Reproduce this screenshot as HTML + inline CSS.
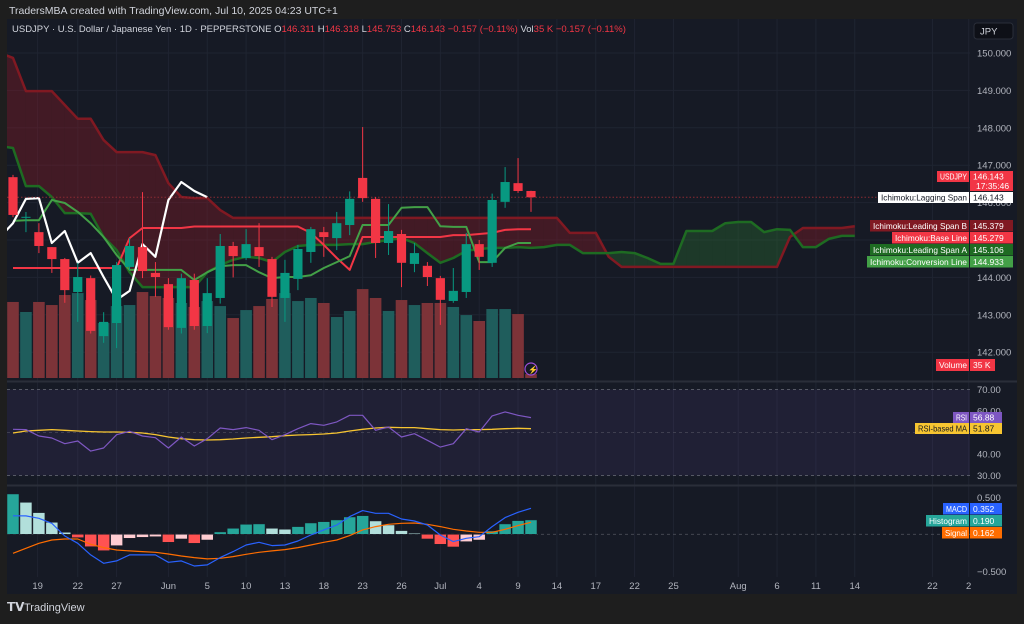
<!DOCTYPE html>
<html><head><meta charset="utf-8">
<style>
html,body{margin:0;padding:0;background:#1e1e1e;}
body{width:1024px;height:619px;overflow:hidden;position:relative;font-family:"Liberation Sans",sans-serif;}
svg text{font-family:"Liberation Sans",sans-serif;}
</style></head>
<body>
<svg id="c" width="1024" height="619" viewBox="0 0 1024 619" xmlns="http://www.w3.org/2000/svg">
<defs>
<clipPath id="cm"><rect x="7" y="19" width="963" height="362"/></clipPath>
<clipPath id="cr"><rect x="7" y="383" width="963" height="101"/></clipPath>
<clipPath id="cd"><rect x="7" y="487" width="963" height="90"/></clipPath>
</defs>
<text x="9" y="14" fill="#d1d4dc" font-size="10.5">TradersMBA created with TradingView.com, Jul 10, 2025 04:23 UTC+1</text>
<rect x="7" y="19" width="1010" height="575" fill="#161a25"/>
<g id="grid"></g>
<g id="cloud" clip-path="url(#cm)"></g>
<g id="vol" clip-path="url(#cm)"></g>
<g id="lines" clip-path="url(#cm)"></g>
<g id="candles" clip-path="url(#cm)"></g>
<g id="rsi" clip-path="url(#cr)"></g>
<g id="macd" clip-path="url(#cd)"></g>
<g id="axes"></g>
<g id="labels"></g>
<text x="12" y="32" font-size="9.5" fill="#d1d4dc">USDJPY · U.S. Dollar / Japanese Yen · 1D · PEPPERSTONE  <tspan fill="#d1d4dc">O</tspan><tspan fill="#f23645">146.311</tspan>  <tspan>H</tspan><tspan fill="#f23645">146.318</tspan>  <tspan>L</tspan><tspan fill="#f23645">145.753</tspan>  <tspan>C</tspan><tspan fill="#f23645">146.143  −0.157 (−0.11%)</tspan>  <tspan>Vol</tspan><tspan fill="#f23645">35 K  −0.157 (−0.11%)</tspan></text>
<rect x="974" y="23" width="39" height="16" rx="3" fill="#0e1017" stroke="#2a2e39"/>
<text x="980" y="34.5" font-size="9.5" fill="#d1d4dc">JPY</text>
<g>
<text x="7" y="611" font-size="12" font-weight="bold" fill="#d1d4dc">𝗧𝗩</text>
<text x="24" y="611" font-size="11" fill="#d1d4dc">TradingView</text>
</g>
</svg>
<script>
// ---- data ----
const closes=[145.67,145.62,144.84,144.49,143.66,144.01,142.57,142.81,144.33,144.84,144.17,144.01,142.67,143.98,142.70,143.58,144.84,144.57,144.89,144.57,143.48,144.12,144.76,145.29,145.08,145.45,146.10,146.12,144.92,145.24,144.39,144.65,144.01,143.40,143.64,144.89,144.55,146.07,146.55,146.31,146.143];
const opens=[146.68,145.60,145.21,144.81,144.49,143.61,143.98,142.43,142.78,144.28,144.81,144.12,143.82,142.65,143.93,142.70,143.45,144.84,144.52,144.81,144.49,143.45,143.96,144.68,145.21,145.05,145.40,146.66,146.10,144.92,145.16,144.36,144.31,143.98,143.37,143.61,144.89,144.39,146.02,146.52,146.311];
const highs=[146.74,145.75,145.45,144.81,144.52,144.39,144.05,143.07,144.41,145.05,146.28,144.41,143.98,144.10,144.10,143.98,145.16,144.95,145.29,145.45,144.55,144.47,144.87,145.35,145.35,145.75,146.30,148.02,146.15,145.96,145.27,144.92,144.41,144.04,144.25,145.19,145.00,146.24,146.95,147.19,146.318];
const lows=[145.61,145.21,144.65,144.12,143.32,142.81,142.50,142.25,142.11,144.20,143.98,143.48,142.60,142.50,142.60,142.51,143.30,144.00,144.47,144.28,143.21,142.81,143.66,144.39,144.55,144.73,145.13,146.02,144.52,144.60,143.74,144.14,143.77,142.73,143.32,143.45,144.20,144.28,145.86,146.26,145.753];
const volumes=[667,579,667,640,728,745,684,482,631,640,754,719,702,658,623,675,631,526,596,631,693,745,675,702,658,535,588,780,702,588,684,640,658,658,623,552,500,605,605,561,35];
const conversionLine=[145.51,145.53,145.53,146.07,145.99,145.75,145.45,145.08,144.60,144.20,144.20,144.20,144.20,144.20,143.93,144.14,144.30,144.33,144.33,144.14,143.98,144.01,144.01,144.06,144.25,144.41,144.57,145.40,145.40,145.40,145.86,145.88,145.88,145.37,145.35,145.35,144.41,144.41,144.79,144.92,144.92];
const baseLine=[144.25,144.25,144.25,144.25,144.25,144.25,144.25,144.25,144.25,145.05,145.32,145.32,145.32,145.32,145.36,145.36,145.36,145.36,145.36,145.36,145.36,145.36,145.36,145.19,144.87,144.52,144.20,145.08,145.08,145.08,145.08,145.08,145.08,145.08,145.13,145.13,145.16,145.19,145.27,145.29,145.29];
// leading spans start at index -1
const spanStart=-1;
const spanA=[147.51,147.46,146.44,146.44,146.15,145.72,145.72,145.70,145.08,144.73,144.14,143.74,143.74,143.74,143.74,143.74,144.14,144.33,144.47,144.55,144.52,144.41,144.68,144.84,144.87,144.87,144.87,144.89,144.89,144.95,145.00,145.05,144.92,144.65,144.39,144.52,144.71,144.76,144.79,144.79,144.81,144.79,144.81,144.87,144.87,144.65,144.65,144.65,144.68,144.65,144.52,144.36,144.36,145.24,145.24,145.24,145.45,145.48,145.48,145.21,145.29,145.27,144.81,144.81,145.03,145.11,145.11];
const spanB=[150.00,149.87,148.98,148.98,148.98,148.61,148.24,148.24,147.67,147.35,147.35,147.35,147.27,146.52,146.15,146.12,146.12,145.80,145.59,145.59,145.59,145.59,145.59,145.59,145.59,145.59,145.59,145.59,145.59,145.59,145.59,145.59,145.59,145.59,145.59,145.59,145.59,145.59,145.59,145.59,145.59,145.59,145.59,145.59,145.19,145.19,145.19,144.55,144.28,144.28,144.28,144.28,144.28,144.28,144.28,144.28,144.28,144.28,144.28,144.28,144.28,145.08,145.32,145.32,145.32,145.32,145.37];
const rsiValues=[51.48,51.33,48.37,47.44,44.79,46.04,41.37,42.77,48.99,50.54,48.37,47.59,42.77,47.90,43.70,47.12,52.10,51.33,52.26,51.02,46.66,48.99,51.79,54.13,53.35,54.91,58.02,58.02,51.02,52.57,47.90,49.46,46.35,43.23,44.79,51.79,50.24,57.71,59.58,58.02,56.93];
const rsiMA=[49.77,50.71,51.02,51.33,51.02,50.71,50.40,50.24,50.24,50.09,49.77,49.00,47.90,47.12,46.66,46.50,46.66,46.97,47.44,47.75,48.06,48.53,48.84,49.00,49.31,49.77,50.71,51.48,52.10,52.41,52.26,52.26,51.79,51.33,51.17,51.33,51.33,51.48,51.79,51.95,51.79];
const macdLine=[0.250,0.248,0.216,0.149,-0.023,-0.122,-0.279,-0.392,-0.360,-0.279,-0.279,-0.279,-0.378,-0.360,-0.428,-0.414,-0.315,-0.234,-0.144,-0.108,-0.153,-0.144,-0.090,-0.009,0.059,0.126,0.239,0.320,0.284,0.284,0.207,0.180,0.126,-0.009,-0.099,-0.054,-0.032,0.104,0.225,0.297,0.351];
const signalLine=[-0.257,-0.189,-0.122,-0.077,-0.063,-0.063,-0.135,-0.180,-0.212,-0.225,-0.234,-0.243,-0.266,-0.293,-0.315,-0.333,-0.324,-0.302,-0.270,-0.243,-0.225,-0.207,-0.180,-0.144,-0.108,-0.077,-0.018,0.059,0.104,0.135,0.149,0.153,0.135,0.104,0.068,0.045,0.027,0.027,0.068,0.117,0.162];
const histogram=[0.545,0.432,0.293,0.162,0.027,-0.045,-0.167,-0.221,-0.153,-0.054,-0.041,-0.032,-0.108,-0.063,-0.122,-0.077,0.032,0.081,0.135,0.140,0.081,0.068,0.104,0.153,0.171,0.194,0.234,0.252,0.180,0.126,0.050,0.014,-0.063,-0.135,-0.171,-0.099,-0.077,0.045,0.140,0.185,0.194];
const priceTicks=[150,149,148,147,146,145,144,143,142];
const rsiTicks=[70,60,40,30];
const macdTicks=[0.5,-0.5];
const dateLabels=["19","22","27","Jun","5","10","13","18","23","26","Jul","4","9","14","17","22","25","Aug","6","11","14","22","2"];
const dateIndex=[1.9,5,8,12,15,18,21,24,27,30,33,36,39,42,45,48,51,56,59,62,65,71,73.8];

// ---- scales ----
const NS="http://www.w3.org/2000/svg";
const X=i=>13+i*12.95;
const PY=p=>53+(150-p)*37.4;
const RY=v=>389.5+(70-v)*2.15;
const MY=v=>534.3-v*74;
const VH=v=>v*0.114;
function mk(tag,attrs,parent){const e=document.createElementNS(NS,tag);for(const k in attrs)e.setAttribute(k,attrs[k]);parent.appendChild(e);return e;}
const $=id=>document.getElementById(id);
const poly=(arr,fx,fy,start)=>arr.map((v,k)=>fx(k+(start||0)).toFixed(1)+","+fy(v).toFixed(1)).join(" ");

// grid
const grid=$("grid");
dateIndex.forEach(d=>{const l=mk("line",{x1:X(d),x2:X(d),y1:19,y2:577,stroke:"#1f2431","stroke-width":1},grid);

});
priceTicks.forEach(p=>{const l=mk("line",{x1:7,x2:970,y1:PY(p),y2:PY(p),stroke:"#1f2431"},grid);

});

// cloud
const cloud=$("cloud");
for(let k=0;k<spanA.length-1;k++){
  const i=k+spanStart;
  const up=(spanA[k]+spanA[k+1])>(spanB[k]+spanB[k+1]);
  const pg=mk("polygon",{points:`${X(i)},${PY(spanA[k])} ${X(i+1)},${PY(spanA[k+1])} ${X(i+1)},${PY(spanB[k+1])} ${X(i)},${PY(spanB[k])}`,fill:up?"rgba(46,125,50,0.32)":"rgba(140,25,40,0.38)"},cloud);
  
  
}

// volume
const vol=$("vol");
volumes.forEach((v,i)=>{const up=closes[i]>=opens[i];
  const r=mk("rect",{x:X(i)-5.8,y:378-VH(v),width:11.6,height:VH(v),fill:up?"#1f5d5c":"#7c3338"},vol);
  
  });

// ichimoku lines
const lines=$("lines");
function line(arr,start,color,w,name,g,fy){const p=mk("polyline",{points:poly(arr,X,fy||PY,start),fill:"none",stroke:color,"stroke-width":w,"stroke-linejoin":"round"},g);
  
  return p;}
line(spanB,spanStart,"#801922",2.5,"leading-span-b",lines);
line(spanA,spanStart,"#1e6b22",2.5,"leading-span-a",lines);
line(baseLine,0,"#f23645",2,"base-line",lines);
line(conversionLine,0,"#43a047",2,"conversion-line",lines);
const lag=closes.slice(24);
line(lag,-1,"#ffffff",2.2,"lagging-span",lines);
const cp=mk("line",{x1:7,x2:970,y1:PY(146.143),y2:PY(146.143),stroke:"#8a2a33","stroke-dasharray":"1.5 2"},lines);



// candles
const cg=$("candles");
closes.forEach((c,i)=>{const o=opens[i],up=c>=o,col=up?"#089981":"#f23645";
  const w=mk("line",{x1:X(i),x2:X(i),y1:PY(highs[i]),y2:PY(lows[i]),stroke:col,"stroke-width":1},cg);
  
  
  const top=PY(Math.max(o,c)),h=Math.max(1,Math.abs(PY(o)-PY(c)));
  const b=mk("rect",{x:X(i)-4.6,y:top,width:9.2,height:h,fill:col},cg);
  
  });
const ic=mk("circle",{cx:531,cy:369,r:6,fill:"#161a25",stroke:"#9c4dd6","stroke-width":1.2},cg);


const it=mk("text",{x:528,y:372.5,"font-size":"8",fill:"#9c4dd6"},cg);it.textContent="⚡";



// pane separators
const ax=$("axes");
[381.5,485.5].forEach(y=>{const l=mk("line",{x1:7,x2:1017,y1:y,y2:y,stroke:"#2a2e39","stroke-width":2},ax);

});

// RSI
const rg=$("rsi");
const band=mk("rect",{x:7,y:RY(70),width:963,height:RY(30)-RY(70),fill:"rgba(126,87,194,0.1)"},rg);


[70,50,30].forEach(v=>{const l=mk("line",{x1:7,x2:970,y1:RY(v),y2:RY(v),stroke:v==50?"#4a4a5a":"#6a6d78","stroke-dasharray":"3 3","stroke-width":0.8},rg);

});
line(rsiMA,0,"#f7c531",1.3,"rsi-ma-line",rg,RY);
line(rsiValues,0,"#7e57c2",1.2,"rsi-line",rg,RY);

// MACD
const mg=$("macd");
const z=mk("line",{x1:7,x2:970,y1:MY(0),y2:MY(0),stroke:"#4a4d57","stroke-dasharray":"3 3","stroke-width":0.8},mg);


histogram.forEach((v,i)=>{const prev=i>0?histogram[i-1]:v;
  let col;if(v>=0)col=v>=prev?"#26a69a":"#b2dfdb";else col=v<prev?"#ff5252":"#ffcdd2";
  const y1=MY(Math.max(v,0)),h=Math.abs(MY(v)-MY(0));
  const r=mk("rect",{x:X(i)-6,y:y1,width:12,height:Math.max(h,0.8),fill:col,stroke:"#161a25","stroke-width":0.5},mg);
  
  });
line(signalLine,0,"#ff6d00",1.2,"signal-line",mg,MY);
line(macdLine,0,"#2962ff",1.2,"macd-line",mg,MY);

// axis labels
function txt(x,y,s,fill,size,name,g,anchor){const t=mk("text",{x:x,y:y,"font-size":size,fill:fill,"text-anchor":anchor||"start"},g);t.textContent=s;
  
  return t;}
priceTicks.forEach(p=>txt(977,PY(p)+3.5,p.toFixed(3),"#b2b5be",9.5,"price-tick",ax));
rsiTicks.forEach(v=>txt(977,RY(v)+3.5,v.toFixed(2),"#b2b5be",9.5,"rsi-tick",ax));
macdTicks.forEach(v=>txt(977,MY(v)+3.5,(v<0?"−":"")+Math.abs(v).toFixed(3),"#b2b5be",9.5,"macd-tick",ax));
dateLabels.forEach((s,k)=>txt(X(dateIndex[k]),589,s,"#b2b5be",9.5,"date-tick",ax,"middle"));

// right-side labels
const lg=$("labels");
function tag(x1,y,h,name,val,bg,fg,valX2){
  const w=970-x1;
  const r=mk("rect",{x:x1,y:y,width:w-1,height:h,fill:bg},lg);
  
  
  const t=txt(967,y+h/2+3,name,fg,8.5,"series-name-label",lg,"end");
  t.setAttribute('textLength',w-6);
  t.setAttribute('lengthAdjust','spacingAndGlyphs');
  const r2=mk("rect",{x:970,y:y,width:(valX2||1013)-970,height:h,fill:bg},lg);
  
  
  txt(973,y+h/2+3,val,fg,8.5,"series-value-label",lg);
}
tag(937,171,11,"USDJPY","146.143","#f23645","#fff");
const rt=mk("rect",{x:970,y:181,width:43,height:10,fill:"#f23645"},lg);


txt(976,189,"17:35:46","#fff",8.5,"countdown-label",lg);
tag(878,192,11,"Ichimoku:Lagging Span","146.143","#ffffff","#131722");
tag(870,220,11.5,"Ichimoku:Leading Span B","145.379","#801922","#fff");
tag(892,232,11.5,"Ichimoku:Base Line","145.279","#f23645","#fff");
tag(870,244,11.5,"Ichimoku:Leading Span A","145.106","#1e6b22","#fff");
tag(867,256,11.5,"Ichimoku:Conversion Line","144.933","#43a047","#fff");
tag(936,359,12,"Volume","35 K","#f23645","#fff",995);
tag(953,412,11,"RSI","56.88","#7e57c2","#fff",1002);
tag(915,423,11,"RSI-based MA","51.87","#f7c531","#131722",1002);
tag(943,503,11.5,"MACD","0.352","#2962ff","#fff",1002);
tag(926,515,11.5,"Histogram","0.190","#26a69a","#fff",1002);
tag(942,527,11.5,"Signal","0.162","#ff6d00","#fff",1002);
</script>
</body></html>
